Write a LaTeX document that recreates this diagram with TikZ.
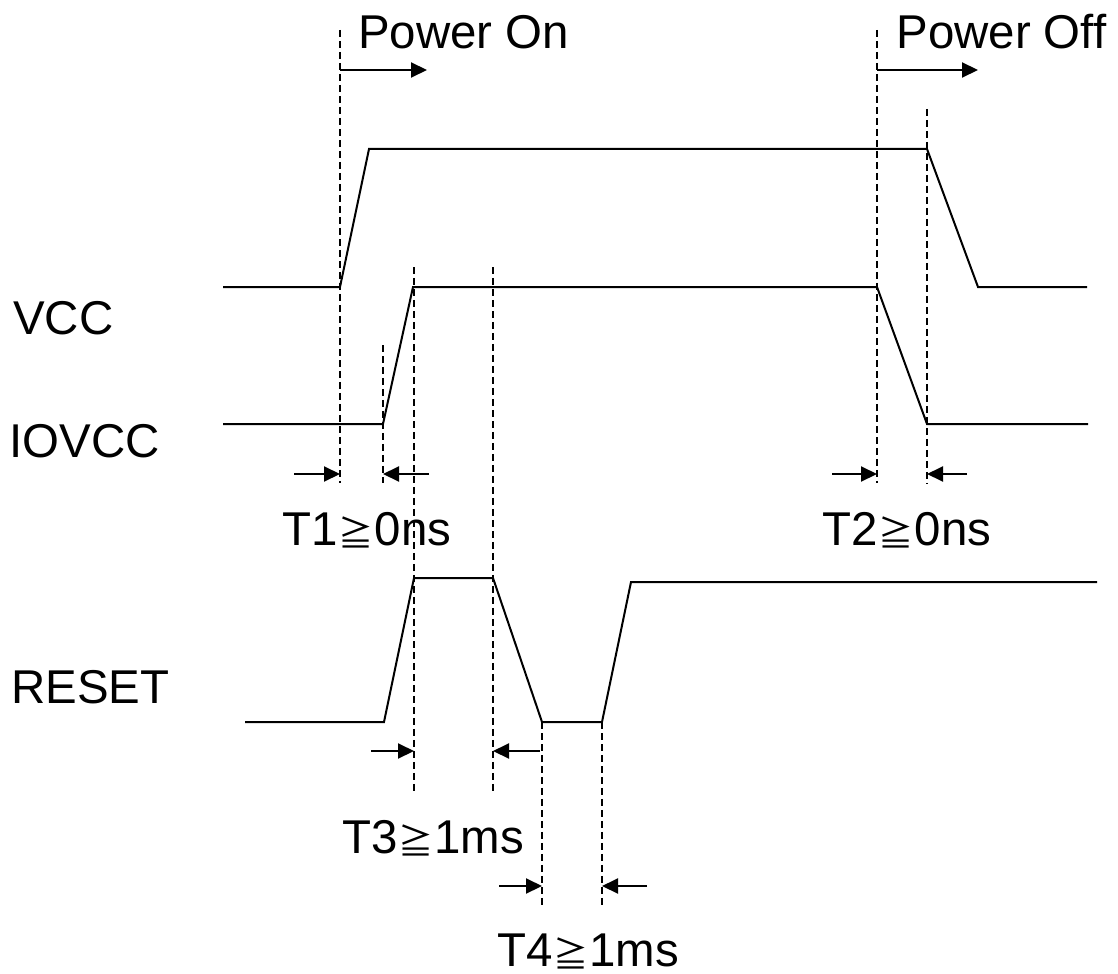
\documentclass[tikz,border=0pt]{standalone}
\usepackage{fontspec}
\setmainfont{Liberation Sans}
\newfontfamily\cjk{Noto Sans CJK JP}
\usetikzlibrary{arrows.meta, positioning}
\newcommand{\geqs}{\makebox[0.78em][c]{\raisebox{-0.04em}{\cjk\fontsize{20}{24}\selectfont ≧}}}
\tikzset{
  wave/.style={line width=0.04cm, line join=miter},
  guide/.style={line width=0.03cm, dash pattern=on 0.14cm off 0.08cm},
  tick/.style={-{Triangle[length=0.32cm, width=0.3cm]}, line width=0.04cm},
  sig/.style={inner sep=0pt, anchor=base west, font=\fontsize{27}{32}\selectfont},
  tlabel/.style={inner sep=0pt, anchor=base, font=\fontsize{27}{32}\selectfont},
}

\begin{document}
\begin{tikzpicture}[x=0.02cm, y=-0.02cm]
  \useasboundingbox (0,0) rectangle (1118,973);

  \node[sig] (on) at (358,49) {Power On};
  \node[sig] (off) at (896,49) {Power Off};
  \node[sig] (vcc) at (13,334) {VCC};
  \node[sig] (iovcc) at (9,457) {IOVCC};
  \node[sig] (reset) at (11,703) {RESET};

  \draw[wave] (223,287) -- (340,287) -- (369,149) -- (927,149) -- (978,287) -- (1087,287);
  \draw[wave] (223,424) -- (383,424) -- (413,287) -- (877,287) -- (927,424) -- (1088,424);
  \draw[wave] (245,722) -- (384,722) -- (414,578) -- (493,578) -- (542,722)
              -- (602,722) -- (631,582) -- (1097,582);

  \draw[guide] (340,30) -- (340,483);
  \draw[guide] (877,30) -- (877,483);
  \draw[guide] (927,109) -- (927,483);
  \draw[guide] (383,345) -- (383,483);
  \draw[guide] (414,267) -- (414,792);
  \draw[guide] (493,267) -- (493,792);
  \draw[guide] (542,722) -- (542,908);
  \draw[guide] (602,722) -- (602,908);

  \draw[tick] (340,70) -- (427,70);
  \draw[tick] (877,70) -- (978,70);
  \draw[tick] (294,474) -- (340,474);
  \draw[tick] (429,474) -- (383,474);
  \draw[tick] (832,474) -- (877,474);
  \draw[tick] (967,474) -- (927,474);
  \draw[tick] (371,751) -- (414,751);
  \draw[tick] (540,751) -- (493,751);
  \draw[tick] (499,886) -- (542,886);
  \draw[tick] (647,886) -- (602,886);

  \node[tlabel] (t1) at (367,545) {T1\geqs 0ns};
  \node[tlabel] (t2) at (907,545) {T2\geqs 0ns};
  \node[tlabel] (t3) at (433,853) {T3\geqs 1ms};
  \node[tlabel] (t4) at (588,966) {T4\geqs 1ms};
\end{tikzpicture}
\end{document}
